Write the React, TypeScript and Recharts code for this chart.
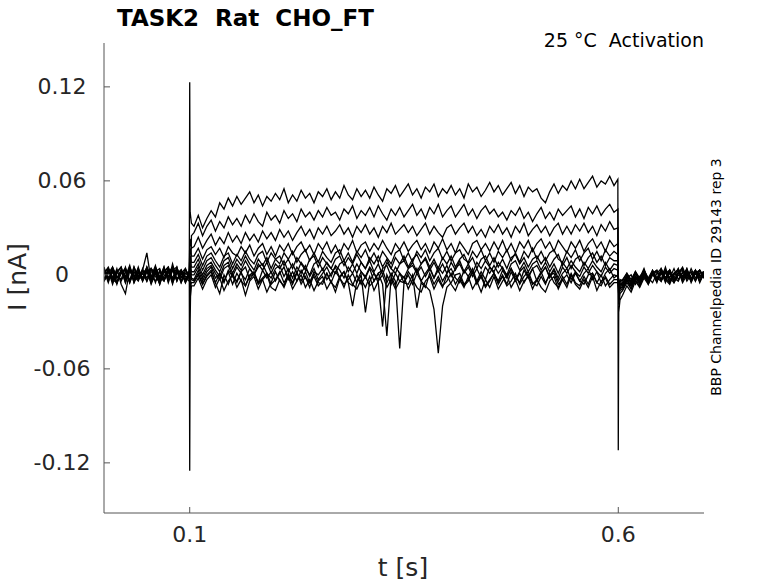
import React from 'react';
import { LineChart, Line, XAxis, YAxis } from 'recharts';

// sample times [s]; extra samples around the step edges at 0.1 s and 0.6 s
const times = [
  0, 0.005, 0.01, 0.015, 0.02, 0.025, 0.03, 0.035, 0.04, 0.045,
  0.05, 0.055, 0.06, 0.065, 0.07, 0.075, 0.08, 0.085, 0.09, 0.095, 0.0995,
  0.1, 0.1005, 0.102,
  0.105, 0.11, 0.115, 0.12, 0.125, 0.13, 0.135, 0.14, 0.145, 0.15,
  0.155, 0.16, 0.165, 0.17, 0.175, 0.18, 0.185, 0.19, 0.195, 0.2,
  0.205, 0.21, 0.215, 0.22, 0.225, 0.23, 0.235, 0.24, 0.245, 0.25,
  0.255, 0.26, 0.265, 0.27, 0.275, 0.28, 0.285, 0.29, 0.295, 0.3,
  0.305, 0.31, 0.315, 0.32, 0.325, 0.33, 0.335, 0.34, 0.345, 0.35,
  0.355, 0.36, 0.365, 0.37, 0.375, 0.38, 0.385, 0.39, 0.395, 0.4,
  0.405, 0.41, 0.415, 0.42, 0.425, 0.43, 0.435, 0.44, 0.445, 0.45,
  0.455, 0.46, 0.465, 0.47, 0.475, 0.48, 0.485, 0.49, 0.495, 0.5,
  0.505, 0.51, 0.515, 0.52, 0.525, 0.53, 0.535, 0.54, 0.545, 0.55,
  0.555, 0.56, 0.565, 0.57, 0.575, 0.58, 0.585, 0.59, 0.595,
  0.5995, 0.6, 0.6005, 0.602,
  0.605, 0.61, 0.615, 0.62, 0.625, 0.63, 0.635, 0.64, 0.645, 0.65,
  0.655, 0.66, 0.665, 0.67, 0.675, 0.68, 0.685, 0.69, 0.695, 0.7,
];

// current of each sweep [pA], same sampling as `times`
const sweep01 = [
  5, -4, 2, -6, 3, -1, 6, -5, 2, -3, 4, -6, 1, -2, 5, -4, 7, -3, 2, -5, 1,
  123, 40, 33,
  31, 38, 30, 36, 41, 37, 46, 42, 49, 44,
  50, 45, 49, 53, 46, 51, 44, 50, 47, 52,
  48, 55, 46, 51, 47, 54, 49, 52, 46, 53,
  50, 55, 48, 53, 49, 57, 51, 48, 55, 50,
  54, 49, 56, 51, 47, 55, 52, 57, 50, 54,
  58, 51, 55, 49, 56, 53, 58, 50, 55, 52,
  57, 51, 55, 49, 58, 53, 56, 50, 54, 59,
  53, 57, 51, 55, 59, 52, 57, 50, 56, 53,
  55, 49, 46, 53, 58, 52, 57, 54, 60, 55,
  61, 55, 59, 63, 56, 60, 58, 63, 57,
  61, -112, -24, -16,
  -13, -7, -11, -4, -8, -2, -6, 1, -4, 2, -5, 3, -2, 4, -3, 1, -4, 3, -1, 2,
];
const sweep02 = [
  -4, 3, -6, 2, 5, -3, 4, -5, 1, -2, 3, -1, 6, -4, -1, 4, -3, 2, -5, 3, 0,
  -125, -30, 25,
  27, 33, 25, 31, 35, 28, 34, 30, 37, 32,
  36, 31, 38, 33, 39, 34, 31, 40, 35, 38,
  33, 41, 36, 39, 34, 42, 37, 40, 35, 41,
  37, 43, 38, 40, 35, 42, 39, 44, 36, 41,
  38, 43, 37, 44, 39, 35, 42, 38, 43, 37,
  41, 45, 38, 42, 36, 43, 39, 45, 37, 41,
  44, 37, 41, 45, 38, 42, 36, 41, 44, 39,
  42, 37, 40, 35, 41, 38, 43, 36, 40, 34,
  39, 43, 36, 40, 35, 42, 38, 41, 44, 37,
  42, 36, 43, 39, 44, 38, 42, 45, 40,
  42, 2, -19, -12,
  -10, -5, -9, -3, -7, -1, -5, 2, -4, 1, -3, 3, -5, 0, -2, 4, -3, 1, -4, 2,
];
const sweep03 = [
  3, -3, 5, -2, 1, 4, -5, 2, -1, 3, 14, -4, 3, -6, 2, -1, 4, -3, 1, -4, 2,
  20, 23, 17,
  18, 24, 17, 22, 26, 19, 24, 20, 27, 21,
  25, 20, 27, 22, 26, 21, 28, 23, 27, 22,
  29, 24, 28, 22, 27, 31, 25, 29, 23, 30,
  26, 31, 25, 28, 32, 26, 30, 24, 31, 27,
  32, 26, 30, 24, 31, 27, 33, 26, 29, 32,
  27, 31, 25, 29, 33, 26, 31, 27, 24, 30,
  32, 26, 30, 33, 27, 31, 25, 29, 24, 31,
  27, 32, 26, 30, 24, 31, 27, 33, 25, 29,
  32, 27, 31, 25, 30, 33, 26, 31, 26, 32,
  28, 33, 27, 31, 25, 32, 28, 34, 29,
  30, -1, -15, -10,
  -9, -4, -7, -2, -5, 1, -4, 2, -2, 3, -3, 1, -4, 2, -1, 3, -3, 1, -2, 0,
];
const sweep04 = [
  -4, 2, -1, -5, 3, -2, 5, -1, -4, 3, -2, 4, -1, -5, 2, 5, -3, 1, 3, -2, -4,
  14, 17, 12,
  12, 17, 10, 16, 18, 13, 17, 11, 18, 14,
  12, 18, 14, 19, 12, 17, 20, 13, 18, 12,
  19, 15, 20, 13, 18, 21, 15, 19, 13, 20,
  16, 21, 14, 19, 13, 20, 16, 22, 14, 19,
  21, 15, 20, 16, 22, 17, 13, 20, 16, 21,
  15, 19, 22, 16, 20, 14, 21, 17, 23, 16,
  20, 14, 21, 17, 13, 20, 22, 16, 20, 15,
  21, 16, 22, 15, 20, 14, 21, 17, 22, 15,
  20, 23, 17, 21, 15, 22, 18, 14, 21, 17,
  22, 15, 20, 23, 17, 21, 15, 22, 18,
  20, -2, -13, -8,
  -8, -3, -7, -1, -5, 1, -4, 2, -3, 2, -2, -5, 1, 3, -3, 1, -4, 2, 0, -2,
];
const sweep05 = [
  1, 5, -2, 3, -4, 2, -5, 4, -1, -3, 5, -4, 2, -1, -4, 3, -2, 5, -5, 1, 2,
  10, 12, 8,
  8, 13, 6, 12, 14, 9, 5, 12, 14, 7,
  13, 9, 15, 10, 7, 13, 15, 8, 14, 10,
  7, 14, 10, 15, 8, 13, 16, 9, 14, 8,
  15, 11, 8, 14, 16, 9, 14, 8, 15, 11,
  16, 9, 14, 8, 15, 11, 7, 14, 16, 9,
  14, 8, 15, 11, 16, 9, 14, 17, 10, 15,
  9, 14, 16, 10, 8, 15, 11, 16, 9, 14,
  8, 15, 11, 16, 9, 14, 8, 15, 11, 17,
  10, 15, 9, 14, 16, 10, 8, 15, 11, 16,
  9, 14, 17, 10, 15, 9, 16, 12, 15,
  13, 1, -11, -7,
  -7, -2, -6, -1, -5, 2, -4, 3, -2, -4, 1, 3, -2, -4, 2, 0, -3, 2, -2, 1,
];
const sweep06 = [
  4, -2, 3, -5, 1, 4, -4, 5, -2, 1, 3, -5, 4, -3, 2, 5, -4, 3, -2, 4, -2,
  7, 9, 5,
  5, 10, 3, 9, 11, 6, 2, 9, 11, 4,
  10, 6, 12, 7, 3, 10, 6, 11, 4, 10,
  12, 6, 10, 4, 11, 7, 3, 10, 12, 5,
  11, 7, 4, 10, 12, 6, 11, 7, 13, 8,
  4, 11, 7, 12, 5, 10, 4, 11, 7, 12,
  5, 10, 13, 7, 11, 5, 10, 4, 11, 7,
  12, 5, 10, 13, 7, 11, 4, 10, 12, 6,
  11, 5, 10, 4, 11, 13, 7, 11, 5, 10,
  12, 7, 11, 5, 10, 13, 6, 11, 4, 10,
  12, 6, 11, 14, 8, 12, 6, 11, 9,
  9, 2, -9, -5,
  -6, -1, -5, 1, -4, 3, -3, 1, -5, 4, -2, 3, -4, 1, 5, -2, 2, -4, 3, -2,
];
const sweep07 = [
  -3, 4, -4, 1, 5, -5, 3, -1, 4, -4, 2, -3, 5, -1, -4, 3, -6, 4, -1, -3, 2,
  4, 6, 2,
  2, 7, 0, 6, 8, 3, -1, 6, 8, 1,
  7, 3, 9, 4, 0, 7, 3, 8, 1, 7,
  4, 9, 2, 7, 1, 8, 4, 0, 7, 9,
  3, 8, 4, 1, 7, 9, 2, 7, 1, 8,
  4, 9, 2, 7, 0, 8, 4, 1, 7, 9,
  4, 8, 2, 7, 10, 3, 8, 2, 7, 1,
  8, 3, 9, 2, 7, 1, 8, 4, 9, 5,
  2, 8, 4, 0, 7, 9, 3, 8, 2, 7,
  9, 3, 8, 2, 7, 1, 8, 4, 9, 5,
  2, 8, 4, 9, 5, 2, 8, 3, 7,
  6, -2, -8, -4,
  -5, -1, -4, 2, -3, 3, -2, -5, 1, 4, -2, 3, -4, 1, 3, -3, 4, -2, 1, 2,
];
const sweep08 = [
  3, -5, 4, -1, -3, 5, -4, 2, -3, 1, 4, -5, 2, 4, -3, 1, 5, -4, 3, -1, -2,
  2, 4, 0,
  0, 5, -2, 4, 6, 1, -3, 4, 6, -1,
  5, 1, -3, 4, 0, 5, 7, 1, -2, 4,
  6, -1, 4, -2, 5, 1, 6, -1, 4, -3,
  1, 5, -1, 6, 3, -2, 5, 1, 7, 2,
  -1, 5, 1, -3, 4, 6, -1, 5, 1, -2,
  4, 6, 1, 5, -1, 4, -2, 5, 1, 6,
  -1, 4, 7, 1, 5, -1, 4, -2, 5, 1,
  6, 1, 5, -1, 4, -3, 2, 5, -1, 4,
  6, 1, 5, -1, 4, -2, 5, 1, 6, 2,
  -1, 5, 1, 6, 2, -1, 5, 1, 4,
  3, -1, -7, -3,
  -4, 1, -3, 2, -5, 1, -2, 3, -4, 1, 3, -2, 4, -3, 1, 3, -2, 1, 3, -2,
];
const sweep09 = [
  -4, 1, 5, -2, 3, -5, 4, -1, -3, 4, -4, 2, 1, -6, 4, -2, 3, 5, -4, 1, -1,
  0, 2, -2,
  -3, 3, -4, 2, 5, -2, 1, -5, 3, -1,
  -4, 2, 5, -3, 1, -5, 3, -2, 2, -4,
  1, 5, -3, 2, -4, 3, -2, -5, 2, 0,
  4, -3, 1, 5, -2, 2, -5, -20, -4, 2,
  -2, 4, -4, 1, 3, -5, 1, -4, -47, -5,
  2, -2, 4, -4, 1, 5, -2, 3, -4, 1,
  4, -2, -5, 3, -1, 4, -4, 2, -3, 5,
  1, -4, 3, -2, 4, -1, -5, 3, -2, 4,
  -4, 1, 5, -2, 3, -4, 1, 4, -3, 2,
  -4, 1, 4, -3, 2, -5, 1, 4, -2,
  0, -3, -6, -4,
  -3, 1, -5, 2, -2, 4, -4, 1, 3, -3, 5, -4, 1, 3, -2, 4, -5, 1, 3, -2,
];
const sweep10 = [
  1, 4, -3, -5, 2, -1, 4, -4, 3, -2, 5, -1, -4, 2, -3, 4, -5, 1, 3, -4, 2,
  -1, 1, -3,
  -4, 1, -6, 0, 3, -5, 1, -4, 2, -6,
  1, -4, -7, 0, 2, -5, -2, 1, -6, -3,
  2, -5, 0, -6, 1, -4, 2, -5, -1, -7,
  -4, 1, -5, 2, -2, -6, -3, 1, -5, 0,
  -24, -4, 1, -5, -33, 0, -6, 1, -4, -5,
  0, -6, 1, -4, -7, -10, -22, -50, -20, -8,
  -5, 0, 1, -6, -3, 2, -5, 0, -7, -3,
  1, -5, 0, -6, 2, -4, 1, -5, 0, -6,
  -3, 2, -5, 0, 1, -6, -3, 0, -5, 1,
  -4, -6, 0, 1, -5, 0, -7, -3, 0,
  -1, -4, -10, -6,
  -6, 0, -5, 1, -4, 3, -6, 0, 2, -4, 3, -2, -5, 1, 4, -4, 0, 3, -4, 1,
];
const sweep11 = [
  3, -3, 4, -5, 1, 3, -4, 5, -2, 1, -4, 4, 1, -3, 5, -5, 3, -3, 1, 4, -3,
  -2, -8, -5,
  -5, 0, -6, -1, 2, -5, -12, 0, -6, 1,
  -5, 2, -7, -1, 1, -6, -3, -11, -5, 2,
  -4, -7, 1, -5, 2, -6, -1, -8, 1, -5,
  -6, 1, -5, -8, -1, 2, -5, -7, 0, -6,
  -1, -7, -4, 1, -6, -39, -1, -7, 1, -5,
  -6, 0, -21, -5, -8, 1, -6, -1, -7, -4,
  1, -6, -1, -7, -4, 2, -6, -1, -8, -4,
  1, -6, -1, -7, -4, 1, -6, -1, 2, -5,
  -7, -1, -6, 1, -5, -8, -1, -6, 1, -5,
  -7, -1, -6, 1, -5, -7, -1, -6, -3,
  -3, -5, -9, -7,
  -7, -2, 0, -6, -1, 2, -5, 1, 3, -4, 2, -5, 0, 4, -4, 2, -3, 3, -5, 1,
];
const sweep12 = [
  -3, 3, -4, 4, -6, -12, 3, -3, 5, -4, 2, 4, -5, 3, -3, 2, 4, -4, 3, -5, 1,
  -4, -15, -7,
  -7, -2, -9, -3, 0, -8, -2, -10, -4, 0,
  -8, -3, -13, -4, -1, -9, -3, 0, -8, -10,
  -3, -8, -1, -9, -4, 0, -8, -3, -10, -4,
  -1, -9, -4, -11, -2, -8, 0, -6, -9, -3,
  -8, -1, -10, -4, 0, -8, -3, -9, -4, -1,
  -9, -3, -8, -11, -4, -1, -9, -3, -8, 0,
  -6, -10, -3, -8, -1, -9, -4, -11, -3, -8,
  -1, -9, -4, 0, -8, -3, -10, -4, -1, -9,
  -3, -8, -11, -4, -1, -9, -3, -8, 0, -6,
  -9, -3, -8, -1, -10, -4, -2, -8, -5,
  -5, -7, -13, -9,
  -8, -3, -9, -1, -6, 0, -5, 1, -4, 2, -3, -6, 1, 3, -5, 0, 2, -4, 3, -2,
];

const sweeps = [
  sweep01, sweep02, sweep03, sweep04, sweep05, sweep06,
  sweep07, sweep08, sweep09, sweep10, sweep11, sweep12,
];

const xTicks = [0.1, 0.6];
const xTickLabels = ['0.1', '0.6'];
const yTicks = [-120, -60, 0, 60, 120];
const yTickLabels = ['-0.12', '-0.06', '0', '0.06', '0.12'];

const rows = times.map((t, i) => {
  const row: Record<string, number> = { t };
  sweeps.forEach((s, k) => {
    row[`s${k}`] = s[i];
  });
  return row;
});

const font = '"DejaVu Sans", sans-serif';
const ink = '#262626';

const YTick = (props: any) => (
  <text
    x={props.x}
    y={props.y}
    textAnchor="middle"
    dominantBaseline="central"
    fontSize={22}
    fontFamily={font}
    fill={ink}
  >
    {yTickLabels[yTicks.indexOf(props.payload.value)]}
  </text>
);

const XTick = (props: any) => (
  <text x={props.x} y={props.y} textAnchor="middle" fontSize={22} fontFamily={font} fill={ink}>
    {xTickLabels[xTicks.indexOf(props.payload.value)]}
  </text>
);

export default function App() {
  return (
    <div style={{ position: 'absolute', left: 0, top: 0, width: 778, height: 583, background: '#fff' }}>
      <LineChart width={778} height={583} data={rows} margin={{ top: 43, right: 74, bottom: 40, left: 44 }}>
        <XAxis
          dataKey="t"
          type="number"
          domain={[0, 0.7]}
          ticks={xTicks}
          interval={0}
          height={30}
          tickSize={-6}
          tickMargin={35}
          tick={<XTick />}
          axisLine={{ stroke: '#555', strokeWidth: 1 }}
          tickLine={{ stroke: '#555', strokeWidth: 1 }}
          allowDataOverflow
        />
        <YAxis
          type="number"
          domain={[-152, 148]}
          ticks={yTicks}
          interval={0}
          width={60}
          tickSize={-6}
          tickMargin={48}
          tick={<YTick />}
          axisLine={{ stroke: '#555', strokeWidth: 1 }}
          tickLine={{ stroke: '#555', strokeWidth: 1 }}
          allowDataOverflow
        />
        {sweeps.map((_, k) => (
          <Line
            key={k}
            dataKey={`s${k}`}
            type="linear"
            stroke="#000"
            strokeWidth={1.3}
            dot={false}
            activeDot={false}
            isAnimationActive={false}
          />
        ))}
      </LineChart>
      <svg
        width={778}
        height={583}
        style={{ position: 'absolute', left: 0, top: 0, pointerEvents: 'none' }}
        fontFamily={font}
      >
        <text x={117} y={26} fontSize={23} fontWeight="bold" fill="#000" style={{ whiteSpace: 'pre' }}>
          TASK2  Rat  CHO_FT
        </text>
        <text x={704} y={47} fontSize={19} textAnchor="end" fill="#000" style={{ whiteSpace: 'pre' }}>
          25 °C  Activation
        </text>
        <text x={721} y={277} fontSize={14} textAnchor="middle" fill="#000" transform="rotate(-90 721 277)">
          BBP Channelpedia ID 29143 rep 3
        </text>
        <text x={26} y={277} fontSize={25} textAnchor="middle" fill={ink} transform="rotate(-90 26 277)">
          I [nA]
        </text>
        <text x={403} y={576} fontSize={25} textAnchor="middle" fill={ink}>
          t [s]
        </text>
      </svg>
    </div>
  );
}
